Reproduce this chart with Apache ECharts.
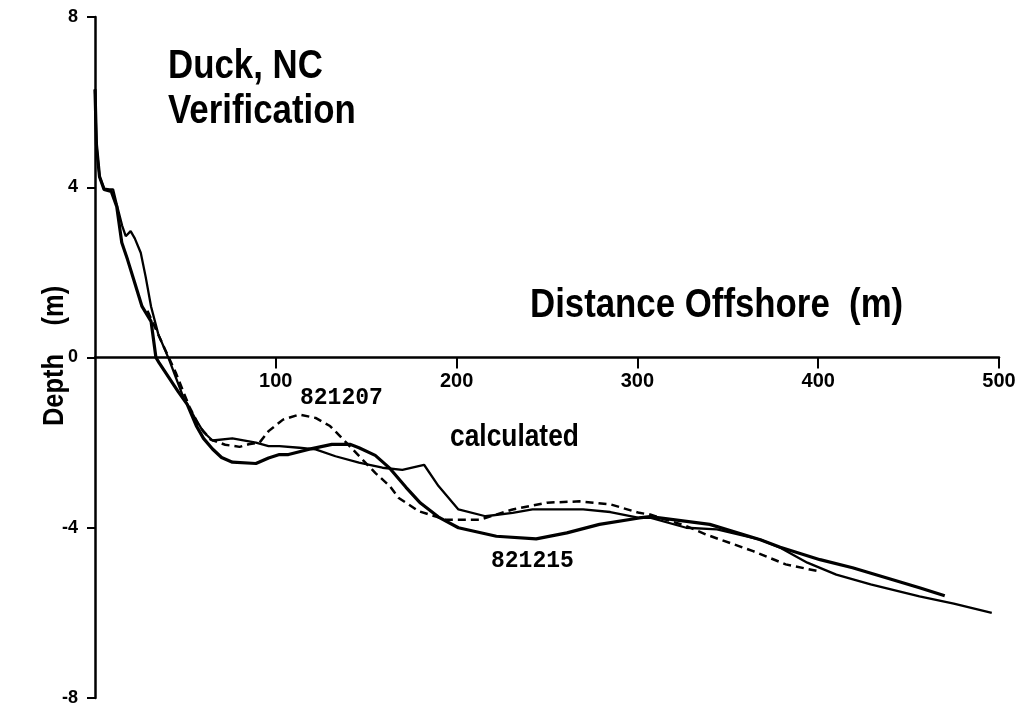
<!DOCTYPE html>
<html>
<head>
<meta charset="utf-8">
<script src="https://cdn.jsdelivr.net/npm/echarts@6/dist/echarts.min.js"></script>
<style>
  html, body { margin: 0; padding: 0; background: #fff; }
  #chart { width: 1030px; height: 709px; }
</style>
</head>
<body>
<div id="chart"></div>
<script>
// profile 821207 (thin solid)
var dist207 = [0, 0.8, 2.5, 5, 8, 10, 12, 15, 17, 19.7, 22, 25.3, 28, 31, 35, 41, 45, 49, 55, 60, 65, 76, 89, 96, 102, 113, 122, 133, 146, 159, 170, 182, 190, 201, 216, 231, 242, 270, 285, 301, 307, 327, 344, 368, 379, 394, 410, 429, 456, 475, 496];
var depth207 = [6.3, 5.0, 4.25, 3.97, 3.95, 3.95, 3.6, 3.1, 2.85, 2.97, 2.8, 2.46, 1.9, 1.2, 0.55, -0.05, -0.5, -0.95, -1.4, -1.75, -1.95, -1.9, -2.0, -2.08, -2.08, -2.12, -2.16, -2.32, -2.47, -2.59, -2.64, -2.52, -3.02, -3.57, -3.73, -3.65, -3.57, -3.57, -3.63, -3.77, -3.76, -4.0, -4.04, -4.28, -4.47, -4.82, -5.1, -5.33, -5.61, -5.78, -6.0];

// profile 821215 (thick solid)
var dist215 = [0, 0.8, 2.5, 5, 9, 12, 14.8, 18, 22, 26, 31, 33.7, 35.4, 46, 51, 56, 60, 65, 70, 76, 89, 96, 102, 107, 118, 131, 141, 146, 155, 163, 172, 180, 190, 201, 222, 244, 261, 279, 301, 307, 340, 368, 379, 401, 419, 438, 456, 470];
var depth215 = [6.3, 5.0, 4.25, 3.95, 3.9, 3.55, 2.7, 2.3, 1.75, 1.2, 0.85, 0.0, -0.12, -0.8, -1.1, -1.6, -1.9, -2.15, -2.35, -2.46, -2.49, -2.36, -2.28, -2.28, -2.16, -2.04, -2.04, -2.12, -2.3, -2.6, -3.05, -3.42, -3.75, -4.0, -4.2, -4.26, -4.12, -3.92, -3.77, -3.74, -3.92, -4.28, -4.46, -4.75, -4.94, -5.18, -5.41, -5.6];

// calculated profile (dashed)
var distCalc = [29, 35.4, 44.7, 52, 57.6, 64, 72, 80, 85, 91, 96, 104, 113, 122, 130, 139, 148, 155, 163, 168, 179, 194, 213, 231, 250, 268, 285, 301, 307, 327, 338, 364, 382, 400];
var depthCalc = [1.1, 0.5, -0.36, -1.14, -1.61, -1.93, -2.05, -2.1, -2.04, -2.0, -1.73, -1.46, -1.34, -1.42, -1.61, -2.0, -2.4, -2.71, -3.02, -3.3, -3.61, -3.81, -3.81, -3.57, -3.41, -3.38, -3.45, -3.65, -3.69, -3.96, -4.16, -4.55, -4.86, -5.02];

var xTicks = [0, 100, 200, 300, 400, 500];
var yTicks = [-8, -4, 0, 4, 8];

var FONT = "'Liberation Sans', Arial, sans-serif";
var MONO = "'Liberation Mono', 'DejaVu Sans Mono', monospace";

var GRID_TOP = 17, GRID_BOTTOM = 11, CHART_H = 709;

function pairs(xs, ys) {
  return xs.map(function (x, i) { return [x, ys[i]]; });
}

// bold text squeezed sideways to look like the narrow face of the original
function label(text, x, y, size, opts) {
  opts = opts || {};
  return {
    type: 'text',
    x: x,
    y: y,
    rotation: opts.rotation || 0,
    scaleX: opts.scaleX || 0.85,
    silent: true,
    style: {
      text: text,
      fill: '#000',
      font: 'bold ' + size + 'px ' + (opts.family || FONT),
      align: opts.align || 'left',
      verticalAlign: 'middle'
    }
  };
}

// the x axis runs through depth 0, half way down the plot
var plotH = CHART_H - GRID_TOP - GRID_BOTTOM;
var zeroShift = -plotH * (0 - yTicks[0]) / (yTicks[yTicks.length - 1] - yTicks[0]);

var myChart = echarts.init(document.getElementById('chart'), null, { renderer: 'canvas' });

var option = {
  animation: false,
  backgroundColor: '#fff',
  grid: {
    left: 95,
    right: 31,
    top: GRID_TOP,
    bottom: GRID_BOTTOM,
    containLabel: false,
    outerBoundsMode: 'none'
  },
  xAxis: {
    type: 'value',
    position: 'bottom',
    offset: zeroShift,
    min: xTicks[0],
    max: xTicks[xTicks.length - 1],
    interval: 100,
    axisLine: { onZero: false, lineStyle: { color: '#000', width: 2.5 } },
    axisTick: { show: true, length: 11, lineStyle: { color: '#000', width: 2 } },
    axisLabel: {
      show: true,
      showMinLabel: false,
      margin: 14,
      color: '#000',
      fontFamily: FONT,
      fontWeight: 'bold',
      fontSize: 20
    },
    splitLine: { show: false }
  },
  yAxis: {
    type: 'value',
    min: yTicks[0],
    max: yTicks[yTicks.length - 1],
    interval: 4,
    axisLine: { show: true, onZero: false, lineStyle: { color: '#000', width: 2.5 } },
    axisTick: { show: true, length: 8, lineStyle: { color: '#000', width: 2 } },
    axisLabel: {
      margin: 17,
      color: '#000',
      fontFamily: FONT,
      fontWeight: 'bold',
      fontSize: 18
    },
    splitLine: { show: false }
  },
  graphic: [
    label('Duck, NC', 168, 67, 41),
    label('Verification', 168, 112, 41),
    label('Distance Offshore  (m)', 530, 306, 40, { scaleX: 0.87 }),
    label('821207', 300, 398, 23, { family: MONO, scaleX: 1 }),
    label('calculated', 450, 437, 31),
    label('821215', 491, 561, 23, { family: MONO, scaleX: 1 }),
    label('Depth    (m)', 55, 356, 30, { rotation: Math.PI / 2, align: 'center' })
  ],
  series: [
    {
      name: '821207',
      type: 'line',
      data: pairs(dist207, depth207),
      showSymbol: false,
      lineStyle: { color: '#000', width: 2.3 }
    },
    {
      name: '821215',
      type: 'line',
      data: pairs(dist215, depth215),
      showSymbol: false,
      lineStyle: { color: '#000', width: 3.2 }
    },
    {
      name: 'calculated',
      type: 'line',
      data: pairs(distCalc, depthCalc),
      showSymbol: false,
      lineStyle: { color: '#000', width: 2.5, type: [8, 5] }
    }
  ]
};

myChart.setOption(option);
</script>
</body>
</html>
